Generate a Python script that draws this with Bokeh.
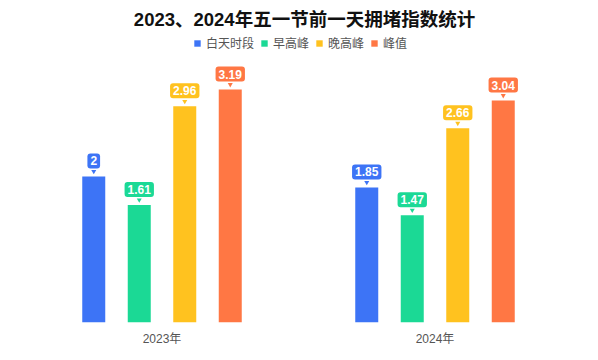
from bokeh.plotting import figure
from bokeh.models import Range1d, FixedTicker, ColumnDataSource, Legend, LegendItem
from bokeh.core.properties import value
from bokeh.embed import file_html
from bokeh.resources import INLINE

# ---- data ----
years = ["2023年", "2024年"]
series = ["白天时段", "早高峰", "晚高峰", "峰值"]
daytime = [2, 1.85]
morning = [1.61, 1.47]
evening = [2.96, 2.66]
peak = [3.19, 3.04]
title_text = "2023、2024年五一节前一天拥堵指数统计"

values = [daytime, morning, evening, peak]
colors = ["#3D74F6", "#1BD995", "#FFC21F", "#FF7744"]
offsets = [-0.25, -1 / 12, 1 / 12, 0.25]

FRAME_W, FRAME_H = 546, 314
Y_END = 4.3
PX = FRAME_H / Y_END
FONT = "Liberation Sans, Noto Sans CJK SC, sans-serif"

p = figure(frame_width=FRAME_W, frame_height=FRAME_H,
           x_range=Range1d(0, 2), y_range=Range1d(0, Y_END),
           output_backend="svg", toolbar_location=None,
           min_border_left=25, min_border_right=19, min_border_top=8,
           min_border_bottom=30, outline_line_color=None,
           background_fill_color="white", border_fill_color="white")

p.yaxis.visible = False
p.grid.visible = False
ax = p.xaxis[0]
ax.ticker = FixedTicker(ticks=[i + 0.5 for i in range(len(years))])
ax.major_label_overrides = {i + 0.5: y for i, y in enumerate(years)}
ax.axis_line_color = None
ax.major_tick_line_color = None
ax.minor_tick_line_color = None
ax.major_label_standoff = 3
ax.major_label_text_font_size = "12px"
ax.major_label_text_color = "#555555"
ax.major_label_text_font = FONT

items = []
for name, vals, col, off in zip(series, values, colors, offsets):
    xs = [i + 0.5 + off for i in range(len(years))]
    src = ColumnDataSource(dict(x=xs, top=vals,
                                lab=[f"{v:g}" for v in vals],
                                tri=[v + 5 / PX for v in vals]))
    r = p.vbar(x="x", top="top", width=23 / 273, source=src,
               fill_color=col, line_color=None)
    items.append(LegendItem(label=name, renderers=[r]))
    p.scatter(x="x", y="tri", source=src, marker="inverted_triangle",
              size=5, fill_color=col, line_color=None)
    p.text(x="x", y="top", text="lab", source=src, y_offset=-15.5,
           text_align="center", text_baseline="middle",
           text_color="white", text_font=value(FONT),
           text_font_style="bold", text_font_size="12px",
           background_fill_color=col, border_radius=3, padding=3)

p.text(x=[279 / 273], y=[(FRAME_H - 10.8) / PX], text=[title_text],
       text_align="center", text_baseline="middle", text_color="#111111",
       text_font=value(FONT), text_font_style="bold", text_font_size="18.5px")

legend = Legend(items=items, orientation="horizontal", location=(168, 271),
                glyph_width=8, glyph_height=8, label_standoff=5, spacing=6,
                padding=0, margin=0, border_line_color=None,
                background_fill_alpha=0, label_text_font_size="12px",
                label_text_color="#555555", label_text_font=FONT,
                label_height=12)
p.add_layout(legend)

open("out.html", "w").write(file_html(p, INLINE))
